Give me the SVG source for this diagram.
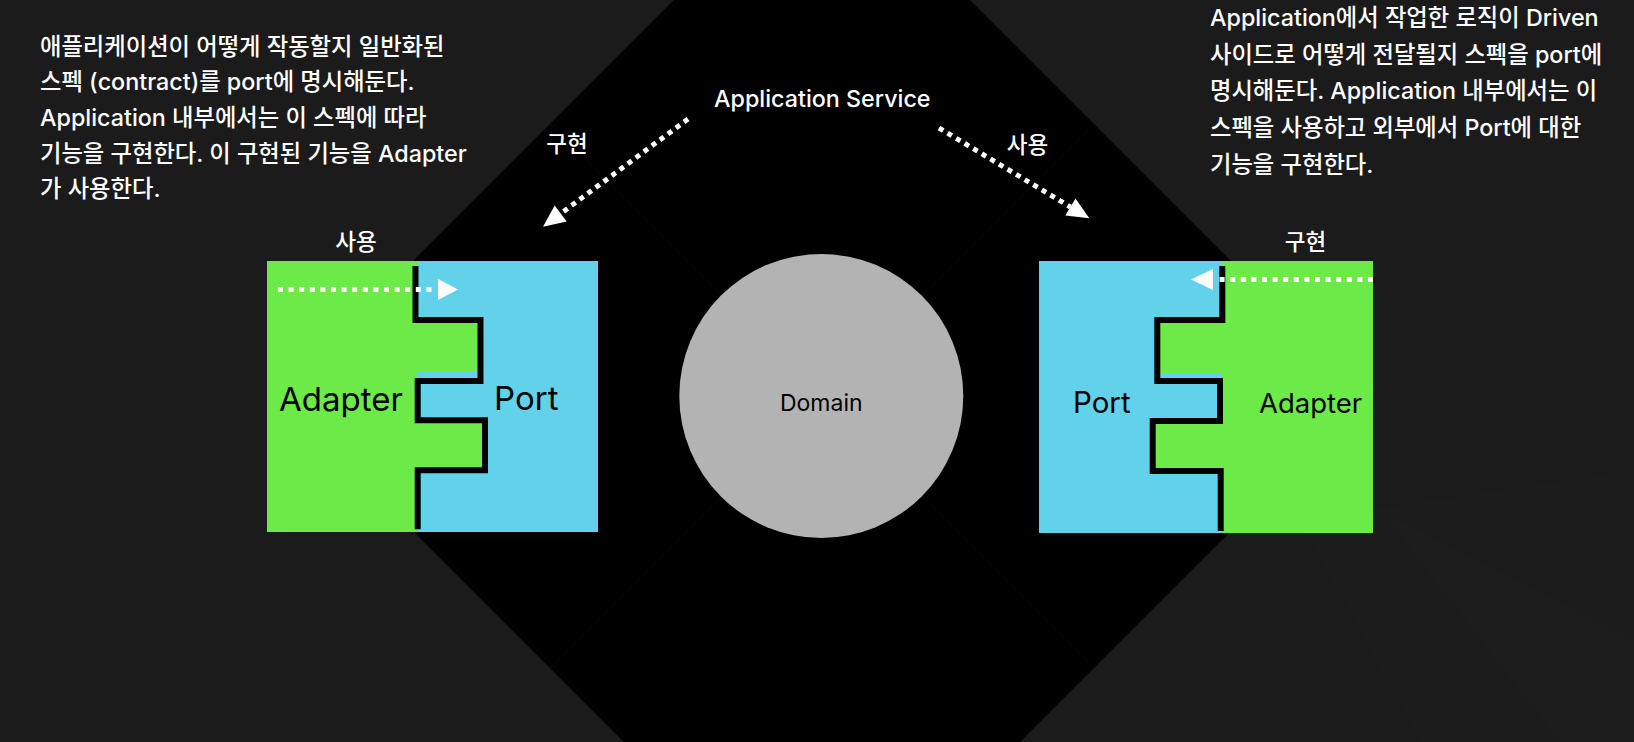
<svg xmlns="http://www.w3.org/2000/svg" width="1634" height="742" viewBox="0 0 1634 742">
<style>
.t{font-family:Inter,"Noto Sans CJK KR","Noto Sans",sans-serif;}
.w{fill:#ffffff;font-weight:500;}
.k{fill:#000000;}
.note{font-size:23.3px;}
.lbl{font-size:22.5px;text-anchor:middle;}
.green{fill:#6cea47;}
.blue{fill:#62d2ea;}
.seam{fill:none;stroke:#000;stroke-width:6;stroke-linejoin:miter;}
.dots{fill:none;stroke:#fff;stroke-width:5;stroke-dasharray:5 5.6;}
.dots2{fill:none;stroke:#fff;stroke-width:5;stroke-dasharray:5 5;}
.head{fill:#fff;}
</style>
<rect x="0" y="0" width="1634" height="742" fill="#1b1b1b"/>
<g id="backdrop">
  <polygon points="1300,520 1634,470 1634,742 1420,742" fill="#1c1c1c"/>
  <polygon points="1380,510 1634,640 1634,742 1560,742" fill="#1e1e1e" opacity="0.6"/>
  <polygon points="822,-148 1366,396 822,940 278,396" fill="#000000"/>
  <line x1="550" y1="124" x2="1094" y2="668" stroke="#090909" stroke-width="1"/>
  <line x1="1094" y1="124" x2="550" y2="668" stroke="#090909" stroke-width="1"/>
</g>
<g id="domain">
  <circle cx="821.3" cy="396" r="142" fill="#b3b3b3"/>
  <text class="t k" x="821.3" y="411" font-size="23" text-anchor="middle">Domain</text>
</g>
<g id="application-service">
  <text class="t w" x="714" y="106.5" font-size="23.3">Application Service</text>
</g>
<g id="note-left">
  <text class="t w note" x="40" y="54.5">애플리케이션이 어떻게 작동할지 일반화된</text>
  <text class="t w note" x="40" y="90.2">스펙 (contract)를 port에 명시해둔다.</text>
  <text class="t w note" x="40" y="126">Application 내부에서는 이 스펙에 따라</text>
  <text class="t w note" x="40" y="161.7">기능을 구현한다. 이 구현된 기능을 Adapter</text>
  <text class="t w note" x="40" y="197.4">가 사용한다.</text>
</g>
<g id="note-right">
  <text class="t w note" x="1210" y="26">Application에서 작업한 로직이 Driven</text>
  <text class="t w note" x="1210" y="62.7">사이드로 어떻게 전달될지 스펙을 port에</text>
  <text class="t w note" x="1210" y="99.3">명시해둔다. Application 내부에서는 이</text>
  <text class="t w note" x="1210" y="136">스펙을 사용하고 외부에서 Port에 대한</text>
  <text class="t w note" x="1210" y="172.7">기능을 구현한다.</text>
</g>
<g id="driving-side">
  <rect class="green" x="267" y="261" width="151" height="271"/>
  <rect class="blue" x="418" y="261" width="180" height="271"/>
  <rect class="green" x="415" y="320" width="65" height="52"/>
  <rect class="green" x="415" y="420" width="70" height="50"/>
  <polyline class="seam" points="415.5,266 415.5,320 480.5,320 480.5,381 417.7,381 417.7,420.3 485,420.3 485,470.3 417.7,470.3 417.7,529.3"/>
  <text class="t k" x="279" y="411" font-size="33">Adapter</text>
  <text class="t k" x="494" y="410" font-size="33">Port</text>
  <text class="t w lbl" x="356" y="250">사용</text>
</g>
<g id="driven-side">
  <rect class="blue" x="1039" y="261" width="185" height="272"/>
  <rect class="green" x="1222" y="261" width="151" height="272"/>
  <rect class="green" x="1157" y="320" width="67" height="53"/>
  <rect class="green" x="1153" y="421" width="71" height="50"/>
  <polyline class="seam" points="1222.3,266 1222.3,320 1157.3,320 1157.3,381 1220,381 1220,421 1152.7,421 1152.7,471 1220.7,471 1220.7,531"/>
  <text class="t k" x="1073" y="413" font-size="29.5">Port</text>
  <text class="t k" x="1259" y="413" font-size="27.5">Adapter</text>
  <text class="t w lbl" x="1305.5" y="250">구현</text>
</g>
<g id="connectors">
  <line class="dots" x1="278" y1="289.5" x2="437" y2="289.5"/>
  <polygon class="head" points="438,279 458,289.5 438,300"/>
  <line class="dots" x1="1373" y1="279.5" x2="1214" y2="279.5"/>
  <polygon class="head" points="1213,269 1191,279.5 1213,290"/>
  <line class="dots2" x1="688" y1="119" x2="560.7" y2="213.6"/>
  <polygon class="head" points="543,226.7 566.7,221.6 554.7,205.6"/>
  <text class="t w lbl" x="567" y="152">구현</text>
  <line class="dots2" x1="939" y1="128" x2="1070.4" y2="207"/>
  <polygon class="head" points="1089.3,218.3 1065.3,215.6 1075.5,198.4"/>
  <text class="t w lbl" x="1027.5" y="153">사용</text>
</g>
</svg>
